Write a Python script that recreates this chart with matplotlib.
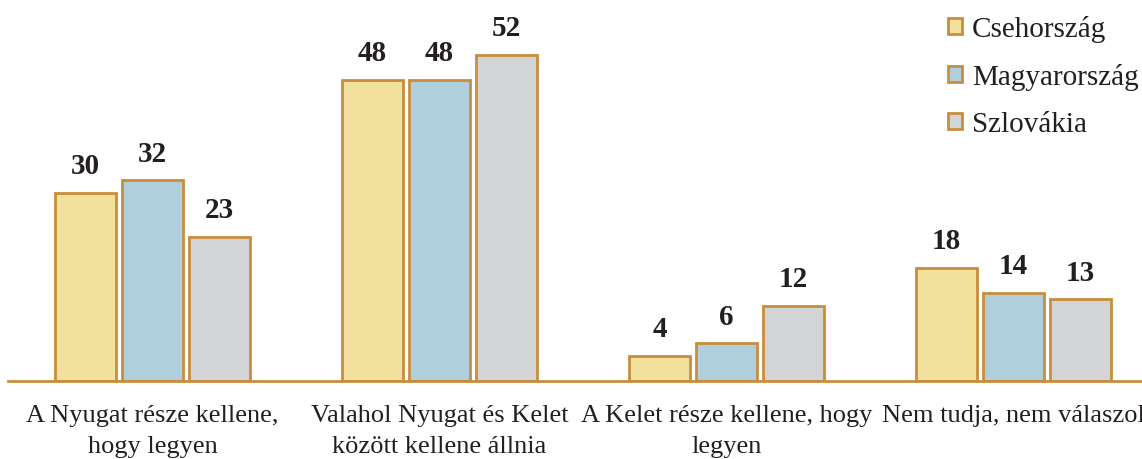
import numpy as np
import matplotlib.pyplot as plt

# adatok
kategoriak = ["A Nyugat része kellene,\nhogy legyen",
              "Valahol Nyugat és Kelet\nközött kellene állnia",
              "A Kelet része kellene, hogy\nlegyen",
              "Nem tudja, nem válaszol"]
orszagok = ["Csehország", "Magyarország", "Szlovákia"]
cseh = [30, 48, 4, 18]
magyar = [32, 48, 6, 14]
szlovak = [23, 52, 12, 13]

szinek = ["#F1E19D", "#AFCFDC", "#D3D4D6"]
keret = "#C98D3B"
szoveg = "#231F20"

plt.rcParams['font.family'] = ['Liberation Serif', 'DejaVu Serif']

fig = plt.figure(figsize=(11.42, 4.59), dpi=100)
ax = fig.add_axes([8/1142, 78/459, 1 - 8/1142, 381/459])

x = np.arange(len(kategoriak))
szel = 61/287
lepes = 67/287

for i, (ertekek, nev) in enumerate(zip([cseh, magyar, szlovak], orszagok)):
    bars = ax.bar(x + (i - 1)*lepes, ertekek, width=szel, color=szinek[i],
                  edgecolor=keret, linewidth=2, label=nev, zorder=2)
    for b, v in zip(bars, ertekek):
        ax.annotate(str(v), (b.get_x() + b.get_width()/2, v),
                    xytext=(0, 13.5), textcoords='offset points',
                    ha='center', va='baseline', fontsize=21,
                    fontweight='bold', color=szoveg)

ax.set_xlim(-0.5035, 3.4477)
ax.set_ylim(0, 60.77)
for s in ['top', 'right', 'left']:
    ax.spines[s].set_visible(False)
ax.spines['bottom'].set_color(keret)
ax.spines['bottom'].set_linewidth(2)
ax.set_yticks([])
ax.set_xticks(x)
ax.set_xticklabels(kategoriak, fontsize=19, color=szoveg)
for t in ax.get_xticklabels():
    t.set_linespacing(1.55)
ax.tick_params(axis='x', length=0, pad=17)

leg = ax.legend(loc='upper right', bbox_to_anchor=(1.0 + 8/1134, 1.0 - 4/381),
                frameon=False, fontsize=21, handlelength=0.46,
                handleheight=0.46, handletextpad=0.34, labelspacing=0.72,
                borderaxespad=0)
for t in leg.get_texts():
    t.set_color(szoveg)

fig.savefig("out.png", dpi=100)
